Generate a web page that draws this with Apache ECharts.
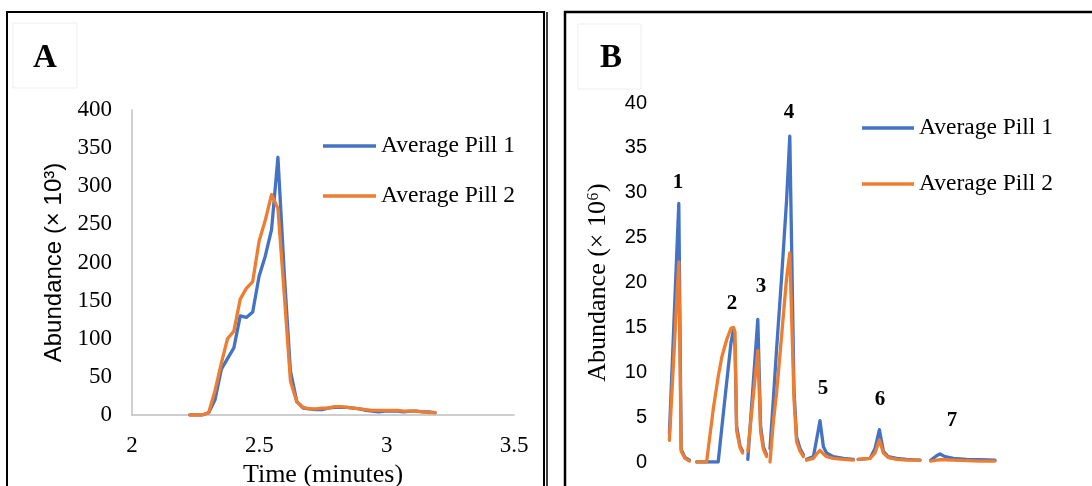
<!DOCTYPE html>
<html>
<head>
<meta charset="utf-8">
<script src="https://cdn.jsdelivr.net/npm/echarts@6/dist/echarts.min.js"></script>
<style>
html,body{margin:0;padding:0;background:#fff;}
#chart{width:1092px;height:486px;}
</style>
</head>
<body>
<div id="chart"></div>
<script>
// ---- Panel A data (time in minutes, abundance ×10^3) ----
const timeA = [2.227, 2.252, 2.276, 2.301, 2.326, 2.351, 2.375, 2.400, 2.425, 2.449,
  2.474, 2.499, 2.523, 2.548, 2.573, 2.598, 2.622, 2.647, 2.672, 2.696,
  2.721, 2.746, 2.770, 2.795, 2.820, 2.845, 2.869, 2.894, 2.919, 2.943,
  2.968, 2.993, 3.017, 3.042, 3.067, 3.092, 3.116, 3.141, 3.166, 3.190];
const pill1A = [0, 0, 0, 3, 20, 60, 74, 88, 130, 128,
  135, 182, 208, 243, 338, 185, 58, 18, 9, 8,
  7, 7, 9, 10, 10, 10, 9, 8, 6, 5,
  4, 5, 5, 5, 4, 5, 5, 4, 4, 3];
const pill2A = [0, 0, 0, 3, 32, 68, 100, 110, 152, 166,
  175, 228, 255, 289, 271, 158, 45, 17, 10, 8,
  8, 9, 9, 11, 11, 10, 9, 8, 7, 6,
  6, 6, 6, 6, 5, 5, 5, 4, 3, 3];
const xTicksA = [2, 2.5, 3, 3.5];

// ---- Panel B data (time in arbitrary minutes, abundance ×10^6); null = gap between windows ----
const timeB = [0.36, 0.595, 0.655, 0.75, 0.86, 0.93,
  1.04, 1.29, 1.46, 1.58, 1.67, 1.79, 1.9, 1.96, 2.0, 2.04, 2.125, 2.19, 2.25,
  2.32, 2.45, 2.57, 2.64, 2.71, 2.79, 2.83,
  2.875, 2.96, 3.04, 3.17, 3.29, 3.37, 3.475, 3.54, 3.625, 3.71, 3.74,
  3.79, 3.96, 4.04, 4.125, 4.21, 4.29, 4.46, 4.71, 4.96, 5.02,
  5.08, 5.375, 5.5, 5.61, 5.71, 5.83, 6.04, 6.29, 6.625, 6.75,
  6.89, 7.04, 7.125, 7.25, 7.46, 7.79, 8.125, 8.5];
const pill1B = [3.2, 28.8, 1.4, 0.5, 0.2, null,
  0, 0, 0, 0, 3.8, 8.8, 13.3, 14.7, 13.0, 4.0, 1.8, 1.2, null,
  0.3, 8.4, 15.9, 4.0, 1.7, 0.8, null,
  1.5, 7.1, 12.6, 20.9, 29.2, 36.3, 8.0, 2.8, 1.5, 0.8, null,
  0.3, 0.6, 2.5, 4.6, 1.7, 1.0, 0.6, 0.4, 0.3, null,
  0.3, 0.4, 1.5, 3.6, 1.2, 0.6, 0.4, 0.3, 0.2, null,
  0.2, 0.7, 0.9, 0.6, 0.4, 0.3, 0.25, 0.2];
const pill2B = [2.4, 22.3, 1.2, 0.4, 0.1, null,
  0, 0, 6.0, 9.5, 11.7, 13.6, 14.9, 15.0, 14.5, 3.5, 1.6, 1.0, null,
  1.2, 7.0, 12.4, 3.4, 1.4, 0.6, null,
  0, 4.5, 7.7, 14.3, 20.5, 23.3, 7.0, 2.3, 1.2, 0.6, null,
  0.2, 0.4, 0.9, 1.3, 0.9, 0.6, 0.4, 0.3, 0.2, null,
  0.3, 0.4, 1.0, 2.45, 1.0, 0.5, 0.3, 0.2, 0.2, null,
  0.1, 0.2, 0.25, 0.25, 0.2, 0.15, 0.1, 0.1];
// peak number annotations (text, time, abundance position)
const peakLabels = [['1', 0.575, 31.1], ['2', 1.925, 17.7], ['3', 2.65, 19.5], ['4', 3.35, 38.9],
  ['5', 4.2, 8.2], ['6', 5.625, 6.9], ['7', 7.425, 4.6]];

const seriesNames = ['Average Pill 1', 'Average Pill 2'];
const BLUE = '#4472C4', ORANGE = '#ED7D31';
const SERIF = '"Liberation Serif", "Times New Roman", serif';
const SANS = '"Liberation Sans", Arial, sans-serif';

const zip = (t, v) => t.map((x, i) => [x, v[i]]);

const chart = echarts.init(document.getElementById('chart'), null, {renderer: 'canvas'});

function lineSeries(name, color, data, idx, z) {
  return {
    name: name, type: 'line', data: data, xAxisIndex: idx, yAxisIndex: idx,
    showSymbol: false, symbol: 'none', connectNulls: false, z: z,
    color: color,
    lineStyle: {color: color, width: 3.3, join: 'round', cap: 'round'},
    animation: false
  };
}

const pB1 = lineSeries(seriesNames[0], BLUE, zip(timeB, pill1B), 1, 2);
pB1.markPoint = {
  symbol: 'circle', symbolSize: 0, silent: true,
  data: peakLabels.map(p => ({coord: [p[1], p[2]], value: p[0]})),
  label: {show: true, position: 'inside', formatter: '{c}', color: '#000',
    fontFamily: SERIF, fontWeight: 'bold', fontSize: 21}
};

const legendText = {fontFamily: SERIF, fontSize: 23.5, color: '#000', lineHeight: 24};

chart.setOption({
  animation: false,
  backgroundColor: '#fff',
  grid: [
    {left: 132, top: 110, width: 382, height: 305, containLabel: false, outerBoundsMode: 'none'},
    {left: 655, top: 103, width: 360, height: 359, containLabel: false, outerBoundsMode: 'none'}
  ],
  xAxis: [
    {type: 'value', gridIndex: 0, min: 2, max: 3.5, interval: 0.5,
      axisLine: {show: true, lineStyle: {color: '#BFBFBF', width: 1.5}},
      axisTick: {show: false}, splitLine: {show: false},
      axisLabel: {fontFamily: SERIF, fontSize: 23, color: '#000', margin: 19,
        customValues: xTicksA},
      name: 'Time (minutes)', nameLocation: 'middle', nameGap: 46,
      nameTextStyle: {fontFamily: SERIF, fontSize: 26, color: '#000'}},
    {type: 'value', gridIndex: 1, min: 0, max: 9, show: false}
  ],
  yAxis: [
    {type: 'value', gridIndex: 0, min: 0, max: 400, interval: 50,
      axisLine: {show: true, lineStyle: {color: '#BFBFBF', width: 1.5}},
      axisTick: {show: false}, splitLine: {show: false},
      axisLabel: {fontFamily: SERIF, fontSize: 23, color: '#000', margin: 20},
      name: 'Abundance (× 10³)', nameLocation: 'middle', nameGap: 66, nameRotate: 90,
      nameTextStyle: {fontFamily: SANS, fontSize: 24, color: '#000'}},
    {type: 'value', gridIndex: 1, min: 0, max: 40, interval: 5,
      axisLine: {show: false}, axisTick: {show: false}, splitLine: {show: false},
      axisLabel: {fontFamily: SANS, fontSize: 20, color: '#000', margin: 8},
      name: 'Abundance (× 10⁶)', nameLocation: 'middle', nameGap: 44, nameRotate: 90,
      nameTextStyle: {fontFamily: SERIF, fontSize: 26, color: '#000'}}
  ],
  legend: [
    {orient: 'vertical', left: 318, top: 129, itemWidth: 53, itemHeight: 3.5, itemGap: 26,
      icon: 'rect', textStyle: legendText, data: seriesNames, selectedMode: false},
    {orient: 'vertical', left: 857, top: 111, itemWidth: 52, itemHeight: 3.5, itemGap: 32,
      icon: 'rect', textStyle: legendText, data: seriesNames, selectedMode: false}
  ],
  series: [
    lineSeries(seriesNames[0], BLUE, zip(timeA, pill1A), 0, 2),
    lineSeries(seriesNames[1], ORANGE, zip(timeA, pill2A), 0, 3),
    pB1,
    lineSeries(seriesNames[1], ORANGE, zip(timeB, pill2B), 1, 3)
  ],
  graphic: [
    {type: 'rect', shape: {x: 7, y: 12, width: 537, height: 520}, silent: true,
      style: {fill: 'none', stroke: '#000', lineWidth: 2}},
    {type: 'line', shape: {x1: 547, y1: 12, x2: 547, y2: 520}, silent: true,
      style: {stroke: '#000', lineWidth: 1.5}},
    {type: 'rect', shape: {x: 565, y: 12, width: 600, height: 520}, silent: true,
      style: {fill: 'none', stroke: '#000', lineWidth: 2.5}},
    {type: 'rect', shape: {x: 13, y: 23, width: 64, height: 65}, silent: true,
      style: {fill: 'none', stroke: '#EEEEEE', lineWidth: 1}},
    {type: 'rect', shape: {x: 578, y: 24, width: 63, height: 65}, silent: true,
      style: {fill: 'none', stroke: '#EEEEEE', lineWidth: 1}},
    {type: 'text', x: 45, y: 58, silent: true,
      style: {text: 'A', font: 'bold 33px ' + SERIF, fill: '#000',
        align: 'center', verticalAlign: 'middle', textAlign: 'center', textVerticalAlign: 'middle'}},
    {type: 'text', x: 611, y: 58, silent: true,
      style: {text: 'B', font: 'bold 33px ' + SERIF, fill: '#000',
        align: 'center', verticalAlign: 'middle', textAlign: 'center', textVerticalAlign: 'middle'}}
  ]
});
</script>
</body>
</html>
